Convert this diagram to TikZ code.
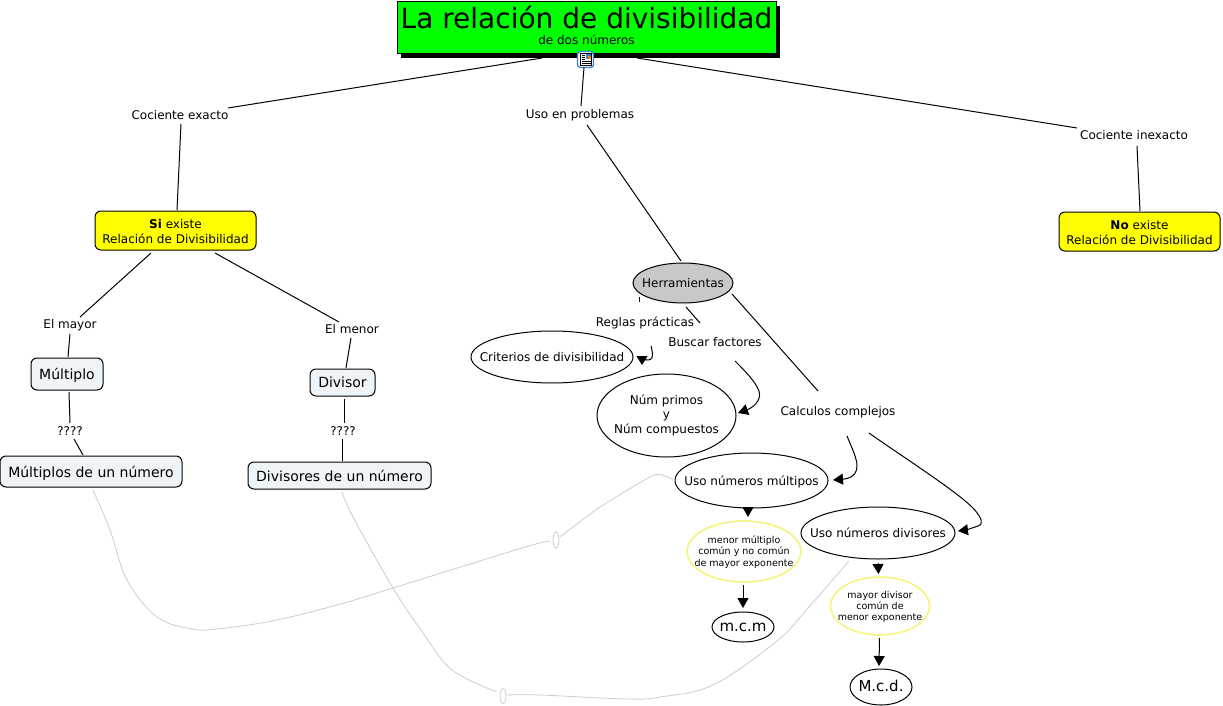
\documentclass[tikz,border=0pt]{standalone}
\usepackage{fontspec}
\setmainfont{DejaVu Sans}
\usetikzlibrary{shapes.geometric,arrows.meta,shadows}
\definecolor{boxpale}{HTML}{EEF4F7}
\definecolor{softyellow}{HTML}{F7F27E}
\definecolor{linkgrey}{HTML}{CCCCCC}
\definecolor{iconblue}{HTML}{3C7FD0}
\definecolor{pureyellow}{HTML}{FFFF00}
\definecolor{puregreen}{HTML}{00FF00}
\definecolor{herrgrey}{HTML}{C8C8C8}
\newcommand{\zb}[2][2.2pt]{\makebox[0pt][c]{\raisebox{0pt}[\dimexpr\height+#1\relax][\depth]{\begin{tabular}{@{}c@{}}#2\end{tabular}}}}
\newcommand{\pt}[3]{([shift={(#2,#3)}]#1.center)}
\tikzset{
  x=1pt,y=-1pt,
  every node/.style={inner sep=0pt,outer sep=0pt,text=black},
  lbl/.style={font=\fontsize{12}{14.5}\selectfont},
  bx/.style 2 args={draw=black,line width=1pt,rounded corners=6pt,minimum width=#1,minimum height=#2},
  el/.style 2 args={ellipse,draw=black,line width=1pt,fill=white,minimum width=#1,minimum height=#2},
  yel/.style 2 args={ellipse,draw=softyellow,line width=1.6pt,fill=white,minimum width=#1,minimum height=#2,font=\fontsize{9.5}{11.2}\selectfont},
  conn/.style={draw=black,line width=1pt},
  arr/.style={draw=black,line width=1pt,-{Triangle[length=10pt,width=11pt]}},
  glink/.style={draw=linkgrey,line width=.8pt},
  gnode/.style={ellipse,draw=linkgrey,line width=.8pt,fill=white,minimum width=6pt,minimum height=16pt},
}
\begin{document}
\begin{tikzpicture}
\useasboundingbox (0,0) rectangle (1223,706);
% nodes
\node[draw=black,line width=1pt,fill=puregreen,minimum width=379pt,minimum height=52pt,align=center,
      drop shadow={shadow xshift=4pt,shadow yshift=-4pt,opacity=1,fill=black}] (title) at (586.5,28)
  {\fontsize{28}{30}\selectfont La relación de divisibilidad\\[4.5pt]\fontsize{12}{13}\selectfont de dos números\rule[-5pt]{0pt}{1pt}};
\node[lbl] (ce) at (180,115) {\zb[4.2pt]{Cociente exacto}};
\node[lbl] (up) at (580,114) {\zb[4.2pt]{Uso en problemas}};
\node[lbl] (ci) at (1134,135) {\zb[4.2pt]{Cociente inexacto}};
\node[bx={161pt}{39pt},fill=pureyellow,lbl] (si) at (175.5,230.5) {\zb[5.6pt]{\textbf{Si} existe\\Relación de Divisibilidad}};
\node[bx={161pt}{39pt},fill=pureyellow,lbl] (no) at (1139.5,231.5) {\zb[5.6pt]{\textbf{No} existe\\Relación de Divisibilidad}};
\node[lbl] (emy) at (70,324) {\zb{El mayor}};
\node[lbl] (emn) at (352,329) {\zb{El menor}};
\node[bx={72pt}{32pt},fill=boxpale,font=\fontsize{14}{16}\selectfont] (mu) at (67,374) {\zb[4.2pt]{Múltiplo}};
\node[bx={65pt}{27pt},fill=boxpale,font=\fontsize{14}{16}\selectfont] (di) at (342.5,382.5) {\zb[4.2pt]{Divisor}};
\node[lbl] (qa) at (70,431) {\zb[3.2pt]{????}};
\node[lbl] (qb) at (343,431) {\zb[3.2pt]{????}};
\node[bx={182pt}{31pt},fill=boxpale,font=\fontsize{14}{16}\selectfont] (ms) at (91,471.5) {\zb[4.6pt]{Múltiplos de un número}};
\node[bx={183pt}{27pt},fill=boxpale,font=\fontsize{14}{16}\selectfont] (ds) at (339.5,475.5) {\zb[5.6pt]{Divisores de un número}};
\node[el={100pt}{40pt},fill=herrgrey,lbl] (he) at (683,283) {\zb{Herramientas}};
\node[lbl] (re) at (645,322) {\zb{Reglas prácticas}};
\node[lbl] (bu) at (715,342) {\zb{Buscar factores}};
\node[lbl] (ca) at (838,411) {\zb{Calculos complejos}};
\node[el={162pt}{52pt},lbl] (cr) at (552,357) {\zb{Criterios de divisibilidad}};
\node[el={139pt}{83pt},lbl] (nu) at (666.5,415.5) {\zb[.4pt]{Núm primos\\y\\Núm compuestos}};
\node[el={153pt}{55pt},lbl] (um) at (751.5,480.5) {\zb[4.2pt]{Uso números múltipos}};
\node[el={154pt}{52pt},lbl] (ud) at (878,533) {\zb{Uso números divisores}};
\node[yel={114pt}{61pt}] (ya) at (744,551.5) {\zb{menor múltiplo\\común y no común\\de mayor exponente}};
\node[yel={99pt}{58pt}] (yb) at (880,606) {\zb{mayor divisor\\común de\\menor exponente}};
\node[el={62pt}{30pt},font=\fontsize{15}{17}\selectfont] (mc) at (743,627) {\zb{m.c.m}};
\node[el={62pt}{36pt},font=\fontsize{15}{17}\selectfont] (md) at (881,687) {\zb{M.c.d.}};
\node[gnode] (ga) at (556,540) {};
\node[gnode,minimum height=15pt] (gb) at (503,696) {};
% icon
\node[draw=iconblue,line width=1.3pt,fill=white,rounded corners=3pt,minimum width=16pt,minimum height=16pt] (ic) at (585.5,59.5) {};
\draw[black,line width=.7pt,fill=white] \pt{ic}{-5}{-6} rectangle \pt{ic}{6}{6};
\fill[iconblue] \pt{ic}{.5}{-5.5} rectangle \pt{ic}{5.5}{-.5};
\fill[orange] \pt{ic}{2}{-3.5} rectangle \pt{ic}{5.5}{-.5};
\draw[black,line width=.7pt] \pt{ic}{-4}{-4.5} -- \pt{ic}{-.5}{-4.5} \pt{ic}{-4}{-2.5} -- \pt{ic}{-.5}{-2.5} \pt{ic}{-4}{-.5} -- \pt{ic}{-.5}{-.5} \pt{ic}{-4}{1.5} -- \pt{ic}{5}{1.5} \pt{ic}{-4}{4} -- \pt{ic}{5}{4};
% connectors
\draw[conn] \pt{title}{-44.5}{30} -- \pt{ce}{48}{-7};
\draw[conn] \pt{title}{50.5}{30} -- \pt{ci}{-57}{-7};
\draw[conn] \pt{ic}{-1.5}{8} -- \pt{up}{1}{-8};
\draw[conn] \pt{up}{7}{11} -- \pt{he}{-2}{-22};
\draw[conn] \pt{ce}{1}{9} -- \pt{si}{1.5}{-20.5};
\draw[conn] \pt{ci}{3}{11} -- \pt{no}{.5}{-20.5};
\draw[conn] \pt{si}{-24.5}{22.5} -- \pt{emy}{10}{-7};
\draw[conn] \pt{emy}{0}{10} -- \pt{mu}{1}{-17};
\draw[conn] \pt{mu}{2}{18} -- \pt{qa}{0}{-8};
\draw[conn] \pt{qa}{4}{8} -- \pt{ms}{-8}{-16.5};
\draw[conn] \pt{si}{39.5}{22.5} -- \pt{emn}{-13}{-7};
\draw[conn] \pt{emn}{-1}{9} -- \pt{di}{3.5}{-14.5};
\draw[conn] \pt{di}{1.5}{16.5} -- \pt{qb}{1}{-8};
\draw[conn] \pt{qb}{-1}{8} -- \pt{ds}{2.5}{-14.5};
\draw[conn] \pt{he}{-44}{14} -- \pt{re}{-6}{-20};
\draw[conn] \pt{he}{3}{24} -- \pt{bu}{-15}{-19};
\draw[conn] \pt{he}{49}{11} -- \pt{ca}{-20}{-20};
\draw[arr,-{Triangle[length=9pt,width=11pt]}] \pt{re}{6}{24} .. controls (652,350) and (653,354) .. (652,358) .. controls (651,361) and (642,361) .. \pt{cr}{90}{8};
\draw[arr] \pt{bu}{20}{19} .. controls (745,371) and (755,381) .. (759,391) .. controls (762,401) and (752,408) .. \pt{nu}{71.5}{-2.5};
\draw[arr] \pt{ca}{9}{25} .. controls (851,446) and (857,458) .. (857,466) .. controls (857,478) and (845,479) .. \pt{um}{81.5}{-.5};
\draw[arr] \pt{ca}{31}{22} .. controls (900,455) and (955,490) .. (973,508) .. controls (982,518) and (984,524) .. (978,526) .. controls (972,528) and (966,530) .. \pt{ud}{80}{-2};
\draw[arr] \pt{um}{-3.5}{27.5} -- \pt{ya}{4}{-34.5};
\draw[arr] \pt{ya}{-1}{33.5} -- \pt{mc}{0}{-19};
\draw[arr] \pt{ud}{0}{30} -- \pt{yb}{-1.5}{-32};
\draw[arr] \pt{yb}{-.5}{32} -- \pt{md}{-2}{-21};
% links
\draw[glink] plot[smooth,tension=.6] coordinates {\pt{ms}{2}{18.5} (110,530) (127,580) (157,617) (192,629) (217,629) (272,621) (337,605) (393,588) (522,548) \pt{ga}{-6}{1}};
\draw[glink] plot[smooth,tension=.4] coordinates {\pt{ga}{4}{-3} (600,507) (652,476) (665,476) \pt{um}{-78.5}{-.5}};
\draw[glink] plot[smooth,tension=.6] coordinates {\pt{ds}{2.5}{16.5} (353,517) (393,588) (423,633) (452,670) \pt{gb}{-6}{-4}};
\draw[glink] plot[smooth,tension=.6] coordinates {\pt{gb}{4}{-1} (540,695) (627,699) (660,697) (713,685) (777,641) (808,608) \pt{ud}{-29}{28}};
\end{tikzpicture}
\end{document}
